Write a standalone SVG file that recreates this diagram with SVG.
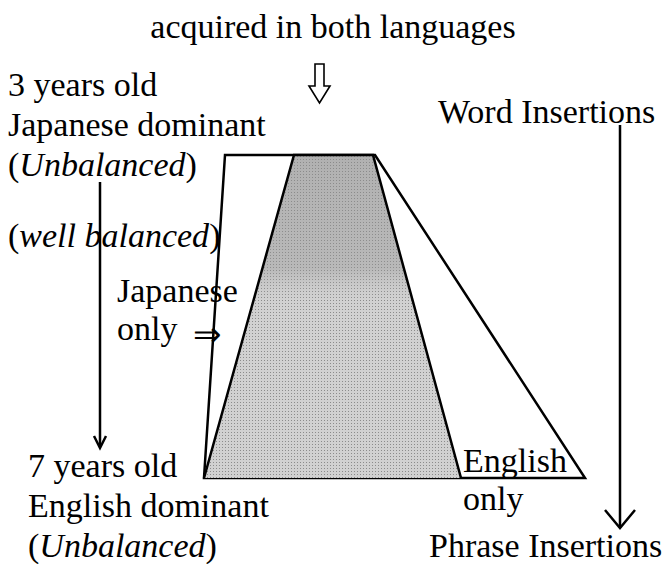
<svg xmlns="http://www.w3.org/2000/svg" width="663" height="564" viewBox="0 0 663 564">
<defs>
<style>
text{font-family:"Liberation Serif","Times New Roman",serif;font-size:34px;fill:#000}
.it{font-style:italic}
.ln{stroke:#000;stroke-width:2.5;fill:none}
</style>
<pattern id="dots" width="3" height="3" patternUnits="userSpaceOnUse">
<rect width="3" height="3" fill="#d2d2d2"/>
<rect width="1" height="1" fill="#858585"/>
</pattern>
<linearGradient id="shade" x1="0" y1="0" x2="0" y2="1">
<stop offset="0" stop-color="#909090" stop-opacity="0.5"/>
<stop offset="0.35" stop-color="#999" stop-opacity="0.45"/>
<stop offset="0.45" stop-color="#c8c8c8" stop-opacity="0.1"/>
<stop offset="1" stop-color="#c8c8c8" stop-opacity="0.1"/>
</linearGradient>
</defs>
<rect width="663" height="564" fill="#fff"/>

<g id="title"><text x="333" y="38" text-anchor="middle">acquired in both languages</text></g>
<g id="down-arrow"><path d="M315,64 H324 V86 H330 L319.5,103 L309,86 H315 Z" fill="#fff" stroke="#000" stroke-width="1.6"/></g>

<g id="trapezoid">
<polygon class="ln" points="225,155 375,155 585,478 204,478"/>
<polygon points="294,155 373,155 461,478 204,478" fill="url(#dots)"/>
<polygon points="294,155 373,155 461,478 204,478" fill="url(#shade)"/>
<polyline class="ln" points="204,478 294,155 373,155 461,478"/>
</g>

<g id="label-3yo">
<text x="8" y="96">3 years old</text>
<text x="8" y="136">Japanese dominant</text>
<text x="8" y="176">(<tspan class="it">Unbalanced</tspan>)</text>
</g>
<g id="label-wb"><text x="8" y="247">(<tspan class="it">well balanced</tspan>)</text></g>
<g id="label-jo">
<text x="117" y="302">Japanese</text>
<text x="117" y="340">only</text>
<text x="193" y="346" font-size="44">⇒</text>
</g>
<g id="label-7yo">
<text x="28" y="477">7 years old</text>
<text x="28" y="517">English dominant</text>
<text x="28" y="557">(<tspan class="it">Unbalanced</tspan>)</text>
</g>
<g id="label-eo">
<text x="463" y="472">English</text>
<text x="463" y="510">only</text>
</g>
<g id="label-wi"><text x="438" y="123">Word Insertions</text></g>
<g id="label-pi"><text x="429" y="557" font-size="33">Phrase Insertions</text></g>

<g id="connectors">
<line class="ln" x1="100" y1="182" x2="100" y2="447"/>
<path class="ln" d="M94,436 L100,448 L106,436" stroke-width="2"/>
<line class="ln" x1="620" y1="125" x2="620" y2="528"/>
<path class="ln" d="M605,510 L620,528 L635,510" stroke-width="2"/>
</g>
</svg>
